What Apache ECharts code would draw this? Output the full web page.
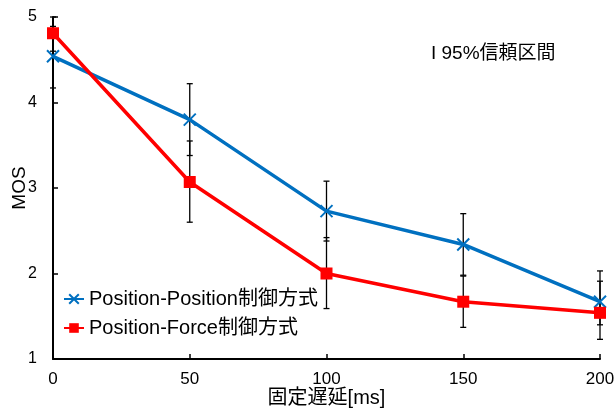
<!DOCTYPE html>
<html>
<head>
<meta charset="utf-8">
<script src="https://cdn.jsdelivr.net/npm/echarts@6/dist/echarts.min.js"></script>
<style>
  html, body { margin: 0; padding: 0; background: #fff; }
  #chart { width: 616px; height: 408px; }
</style>
</head>
<body>
<div id="chart"></div>
<script>
  // 固定遅延 [ms]
  var delays = [0, 50, 100, 150, 200];
  var seriesNames = ['Position-Position制御方式', 'Position-Force制御方式'];

  // MOS
  var mosPP = [4.54, 3.80, 2.73, 2.34, 1.67];
  var mosPF = [4.81, 3.07, 2.00, 1.67, 1.54];

  // 95%信頼区間 [下限, 上限]
  var ciPP = [[4.17, 4.89], [3.38, 4.22], [2.38, 3.08], [1.98, 2.70], [1.40, 2.03]];
  var ciPF = [[4.60, 5.00], [2.60, 3.55], [1.59, 2.42], [1.37, 1.97], [1.23, 1.91]];

  var FONT = '"Liberation Sans", "Noto Sans CJK JP", sans-serif';
  var BLUE = '#0070C0';
  var RED = '#FF0000';

  function pairs(ys) {
    return delays.map(function (d, i) { return [d, ys[i]]; });
  }
  function ciRows(ci) {
    return delays.map(function (d, i) { return [d, ci[i][0], ci[i][1]]; });
  }

  // エラーバー描画
  function renderBar(params, api) {
    var lo = api.coord([api.value(0), api.value(1)]);
    var hi = api.coord([api.value(0), api.value(2)]);
    var w = 3;
    var st = { stroke: '#000', lineWidth: 1.3 };
    return {
      type: 'group',
      children: [
        { type: 'line', shape: { x1: lo[0], y1: lo[1], x2: hi[0], y2: hi[1] }, style: st },
        { type: 'line', shape: { x1: lo[0] - w, y1: lo[1], x2: lo[0] + w, y2: lo[1] }, style: st },
        { type: 'line', shape: { x1: hi[0] - w, y1: hi[1], x2: hi[0] + w, y2: hi[1] }, style: st }
      ]
    };
  }

  var chart = echarts.init(document.getElementById('chart'));

  var option = {
    backgroundColor: '#fff',
    animation: false,
    textStyle: { fontFamily: FONT },
    grid: { left: 53, right: 16, top: 17, bottom: 49, outerBoundsMode: 'none', containLabel: false },
    legend: {
      orient: 'vertical',
      left: 58,
      top: 284,
      itemGap: 9,
      itemWidth: 20,
      itemHeight: 12,
      textStyle: { fontSize: 20, color: '#000', fontFamily: FONT },
      data: seriesNames
    },
    xAxis: {
      type: 'value',
      min: 0,
      max: 200,
      interval: 50,
      name: '固定遅延[ms]',
      nameLocation: 'middle',
      nameGap: 29,
      nameMoveOverlap: false,
      nameTextStyle: { fontSize: 20, color: '#000', fontFamily: FONT },
      axisLine: { lineStyle: { color: '#000', width: 2 } },
      axisTick: { inside: true, length: 5, lineStyle: { color: '#000', width: 1.5 } },
      axisLabel: { fontSize: 17, color: '#000', margin: 12, fontFamily: FONT },
      splitLine: { show: false }
    },
    yAxis: {
      type: 'value',
      min: 1,
      max: 5,
      interval: 1,
      name: 'MOS',
      nameLocation: 'middle',
      nameGap: 24,
      nameMoveOverlap: false,
      nameTextStyle: { fontSize: 19, color: '#000', fontFamily: FONT },
      axisLine: { show: true, lineStyle: { color: '#000', width: 2 } },
      axisTick: { show: true, inside: true, length: 5, lineStyle: { color: '#000', width: 1.5 } },
      axisLabel: { fontSize: 16, color: '#000', margin: 16, fontFamily: FONT },
      splitLine: { show: false }
    },
    graphic: [{
      type: 'text',
      left: 431,
      top: 44,
      style: { text: 'I 95%信頼区間', fontSize: 19, fill: '#000', fontFamily: FONT }
    }],
    series: [
      {
        type: 'custom',
        name: 'ciPP',
        renderItem: renderBar,
        data: ciRows(ciPP),
        z: 1
      },
      {
        type: 'custom',
        name: 'ciPF',
        renderItem: renderBar,
        data: ciRows(ciPF),
        z: 1
      },
      {
        name: seriesNames[0],
        type: 'line',
        data: pairs(mosPP),
        symbol: 'path://M0,0L10,10M10,0L0,10',
        symbolSize: 12,
        color: BLUE,
        lineStyle: { color: BLUE, width: 3.5 },
        itemStyle: { color: BLUE, borderColor: BLUE, borderWidth: 2 },
        z: 2
      },
      {
        name: seriesNames[1],
        type: 'line',
        data: pairs(mosPF),
        symbol: 'rect',
        symbolSize: 12,
        color: RED,
        lineStyle: { color: RED, width: 3.5 },
        itemStyle: { color: RED },
        z: 3
      }
    ]
  };

  chart.setOption(option);
</script>
</body>
</html>
